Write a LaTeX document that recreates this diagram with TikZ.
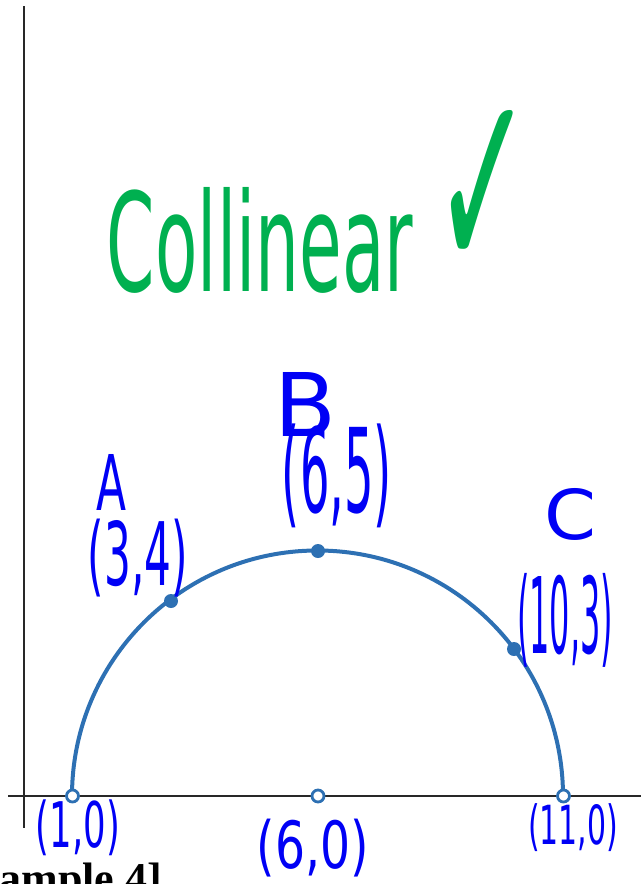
\documentclass[tikz,border=0pt]{standalone}
\usepackage{fontspec}
\setmainfont{Liberation Serif}
\newfontfamily\hwfont{DejaVu Sans}
\usepackage{graphicx}
\definecolor{curveblue}{RGB}{45,112,179}
\definecolor{inkblue}{RGB}{0,0,245}
\definecolor{inkgreen}{RGB}{0,176,80}
\definecolor{axisgray}{RGB}{40,40,40}
\newcommand{\hw}[3]{\resizebox*{#1}{#2}{\hwfont #3}}
\tikzset{
  axisline/.style={draw=axisgray, line width=1.1pt},
  curveline/.style={draw=curveblue, line width=2pt},
  solidpt/.style={circle, fill=curveblue, inner sep=0pt, minimum size=7pt},
  openpt/.style={circle, draw=curveblue, fill=white, line width=1.4pt, inner sep=0pt, minimum size=6pt},
  bluelabel/.style={inner sep=0pt, text=inkblue},
  greenlabel/.style={inner sep=0pt, text=inkgreen}
}
\begin{document}
\begin{tikzpicture}[x=0.5pt,y=-0.5pt]
\useasboundingbox (0,0) rectangle (641,884);
\clip (0,0) rectangle (641,884);
% axes
\coordinate (ytop) at (24,6);
\coordinate (ybot) at (24,828);
\coordinate (xl) at (8,796);
\coordinate (xr) at (641,796);
\draw[axisline] (ytop) -- (ybot);
\draw[axisline] (xl) -- (xr);
% semicircle
\draw[curveline] (563,796) arc[start angle=0, end angle=-180, radius=245.5];
% points
\node[openpt] (P10) at (72.5,796) {};
\node[openpt] (P60) at (318,796) {};
\node[openpt] (P110) at (563.5,796) {};
\node[solidpt] (PA) at (171,601) {};
\node[solidpt] (PB) at (318,551) {};
\node[solidpt] (PC) at (514,649) {};
% handwritten labels
\node[greenlabel] (coll) at (260,240) {\hw{153pt}{53pt}{Collinear}};
\node[greenlabel] (tick) at (483,192) {\hw{50pt}{82pt}{✓}};
\node[bluelabel] (lA) at (111,482) {\hw{15pt}{28pt}{A}};
\node[bluelabel] (lA2) at (138,558) {\hw{50pt}{39pt}{(3,4)}};
\node[bluelabel] (lB) at (306,404) {\hw{31pt}{32pt}{B}};
\node[bluelabel] (lB2) at (337,476) {\hw{55pt}{52pt}{(6,5)}};
\node[bluelabel] (lC) at (570,514) {\hw{26pt}{26pt}{C}};
\node[bluelabel] (lC2) at (565,620) {\hw{48pt}{47pt}{(10,3)}};
\node[bluelabel] (l10) at (78,828) {\hw{42pt}{28pt}{(1,0)}};
\node[bluelabel] (l60) at (313,848) {\hw{56pt}{29pt}{(6,0)}};
\node[bluelabel] (l110) at (573,828) {\hw{45pt}{24pt}{(11,0)}};
% cut-off caption
\node[anchor=base west, inner sep=0pt, font=\fontsize{22}{22}\selectfont\bfseries] (cap) at (-1,893) {ample 4]};
\end{tikzpicture}
\end{document}
